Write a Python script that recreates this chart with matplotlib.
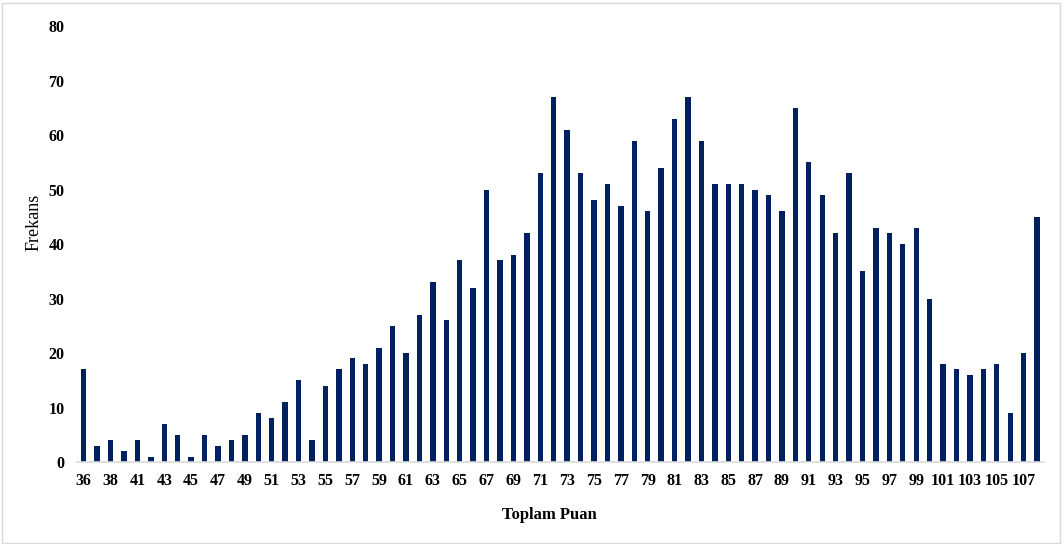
import matplotlib.pyplot as plt
from matplotlib.patches import Rectangle

# Toplam Puan categories (one score between 38 and 41 is unlabeled; taken as 40)
scores = [36, 37, 38, 40] + list(range(41, 109))
freq = [17, 3, 4, 2, 4, 1, 7, 5, 1, 5, 3, 4, 5, 9, 8, 11, 15, 4, 14, 17,
        19, 18, 21, 25, 20, 27, 33, 26, 37, 32, 50, 37, 38, 42, 53, 67, 61, 53,
        48, 51, 47, 59, 46, 54, 63, 67, 59, 51, 51, 51, 50, 49, 46, 65, 55, 49,
        42, 53, 35, 43, 42, 40, 43, 30, 18, 17, 16, 17, 18, 9, 20, 45]

BAR_COLOR = "#002060"
SERIF = ["Liberation Serif", "DejaVu Serif"]


def main():
    plt.rcParams["font.family"] = SERIF
    fig = plt.figure(figsize=(10.64, 5.44), dpi=100)
    ax = fig.add_axes([0.0724, 0.1507, 0.9086, 0.8013])

    pos = list(range(len(scores)))
    ax.bar(pos, freq, width=0.4, color=BAR_COLOR, zorder=2)

    ax.set_xlim(-0.5, len(scores) - 0.5)
    ax.set_ylim(0, 80)
    ax.set_yticks(range(0, 81, 10))
    ax.set_yticklabels([str(v) for v in range(0, 81, 10)], fontweight="bold", fontsize=11.5)
    ax.set_xticks(pos[::2])
    ax.set_xticklabels([str(s) for s in scores[::2]], fontweight="bold", fontsize=11.5)
    ax.tick_params(axis="both", length=0)
    ax.tick_params(axis="x", pad=8)
    ax.tick_params(axis="y", pad=9)

    for side in ("top", "right", "left"):
        ax.spines[side].set_visible(False)
    ax.spines["bottom"].set_color("#d9d9d9")
    ax.spines["bottom"].set_linewidth(1.2)

    ax.set_xlabel("Toplam Puan", fontweight="bold", fontsize=12)
    ax.set_ylabel("Frekans", fontsize=13)
    ax.xaxis.set_label_coords(0.489, -0.104)
    ax.yaxis.set_label_coords(-0.036, 0.55)

    fig.patches.append(Rectangle((0.002, 0.002), 0.994, 0.992, transform=fig.transFigure,
                                 fill=False, edgecolor="#d9d9d9", linewidth=1.0))

    fig.savefig("out.png", dpi=100, facecolor="white")
    plt.close(fig)


if __name__ == "__main__":
    main()
